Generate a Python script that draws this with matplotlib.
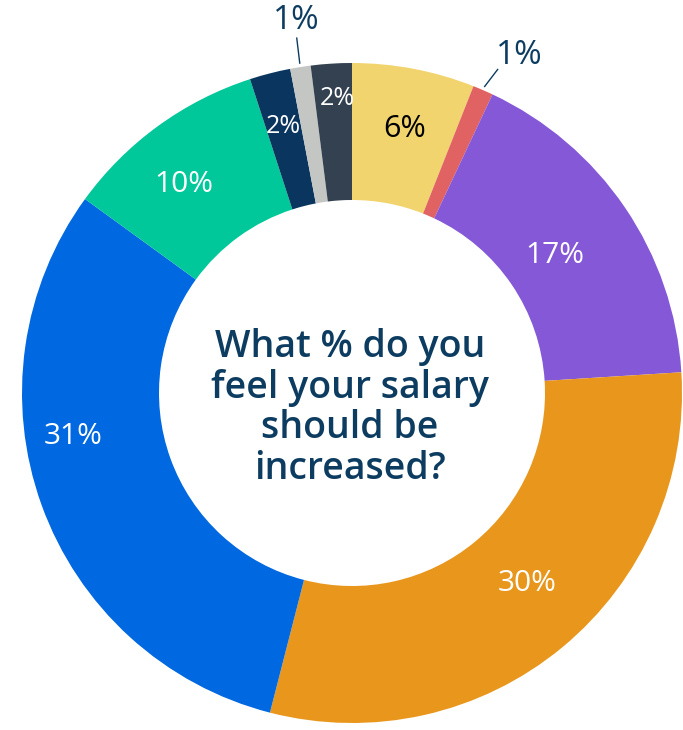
import numpy as np
import matplotlib.pyplot as plt

# survey answers, clockwise from 12 o'clock
labels = ['6%', '1%', '17%', '30%', '31%', '10%', '2%', '1%', '2%']
values = [6, 1, 17, 30, 31, 10, 2, 1, 2]
colors = ['#f2d46e', '#e06262', '#8558d8', '#e8971c', '#0068e0',
          '#00c89a', '#0a355e', '#c4c6c4', '#344150']
question = 'What % do you\nfeel your salary\nshould be\nincreased?'

navy = '#0d3c61'
W, H = 683, 730
cx, cy = 352, H - 393
R, r_in = 330, 193

plt.rcParams['font.family'] = ['Open Sans', 'DejaVu Sans']

fig = plt.figure(figsize=(W / 100, H / 100), dpi=100)
ax = fig.add_axes([0, 0, 1, 1])
ax.set_xlim(0, W)
ax.set_ylim(0, H)
ax.set_aspect('equal')
ax.axis('off')

wedges, _ = ax.pie(values, colors=colors, startangle=90, counterclock=False,
                   radius=R, center=(cx, cy),
                   wedgeprops=dict(width=R - r_in, linewidth=0))
ax.set_xlim(0, W)
ax.set_ylim(0, H)

# label styling: (radius, angle nudge in degrees, size, colour, outside?)
style = [
    (269, 0.5, 22, 'black', False),
    (None, 0, 24, navy, True),
    (245, 0, 21.5, 'white', False),
    (259, -3, 21.5, 'white', False),
    (282, 11, 21.5, 'white', False),
    (268, -3, 21.5, 'white', False),
    (275, 0, 18, 'white', False),
    (None, 0, 24, navy, True),
    (295, 0.7, 18, 'white', False),
]

total = sum(values)
cum = 0
for lab, v, (rr, nudge, fs, col, outside) in zip(labels, values, style):
    mid = (cum + v / 2) / total * 360 + nudge
    cum += v
    a = np.deg2rad(mid)
    dx, dy = np.sin(a), np.cos(a)
    if outside:
        x0, y0 = cx + dx * (R + 4), cy + dy * (R + 4)
        if dx > 0:
            x1, y1 = x0 + 13, y0 + 17
            tx, ty = x1 + 22, y1 + 14
        else:
            x1, y1 = x0 - 3, y0 + 25
            tx, ty = x1, y1 + 18
        ax.plot([x0, x1], [y0, y1], color=navy, lw=1)
        ax.text(tx, ty, lab, ha='center', va='center', fontsize=fs,
                color=col, fontweight='medium')
    else:
        ax.text(cx + dx * rr, cy + dy * rr, lab, ha='center', va='center',
                fontsize=fs, color=col)

ax.text(350, H - 408, question, ha='center', va='center', fontsize=27,
        fontweight='semibold', color=navy, linespacing=1.1)

fig.savefig('out.png', dpi=100)
